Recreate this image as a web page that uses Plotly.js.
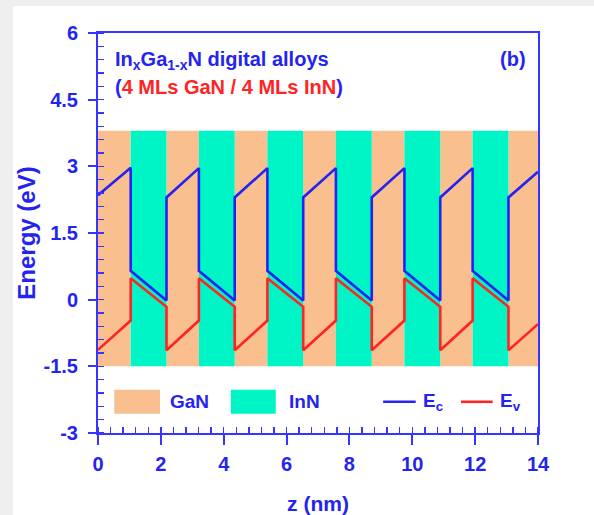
<!DOCTYPE html>
<html>
<head>
<meta charset="utf-8">
<script src="https://cdn.plot.ly/plotly-3.0.1.min.js"></script>
<style>
  html, body { margin: 0; padding: 0; width: 594px; height: 515px; overflow: hidden; background: #efefef; }
  #chart { position: absolute; left: 13px; top: 6px; width: 581px; height: 509px; background: #ffffff; }
</style>
</head>
<body>
<div id="chart"></div>
<script>
// Layer interfaces along the growth direction z (nm)
const zEdges = [0, 1.04, 2.18, 3.21, 4.35, 5.39, 6.53, 7.57, 8.71, 9.75, 10.89, 11.92, 13.06, 14];
const layerMaterial = ['GaN', 'InN', 'GaN', 'InN', 'GaN', 'InN', 'GaN', 'InN', 'GaN', 'InN', 'GaN', 'InN', 'GaN'];

// Conduction band edge (eV) at the start and end of each layer
const ecStart = [2.35, 0.65, 2.30, 0.65, 2.30, 0.65, 2.30, 0.65, 2.30, 0.65, 2.30, 0.65, 2.30];
const ecEnd   = [2.97, -0.02, 2.96, -0.02, 2.96, -0.02, 2.96, -0.02, 2.96, -0.02, 2.96, -0.02, 2.88];

// Valence band edge (eV) at the start and end of each layer
const evStart = [-1.13, 0.48, -1.14, 0.48, -1.14, 0.48, -1.14, 0.48, -1.14, 0.48, -1.14, 0.48, -1.14];
const evEnd   = [-0.47, -0.16, -0.47, -0.16, -0.47, -0.16, -0.47, -0.16, -0.47, -0.16, -0.47, -0.16, -0.55];

// Energy window shaded for each layer
const bandBottom = -1.5;
const bandTop = 3.8;

// Axis tick labels
const yTickVals = [-3, -1.5, 0, 1.5, 3, 4.5, 6];
const yTickText = ['-3', '-1.5', '0', '1.5', '3', '4.5', '6'];
const xTickVals = [0, 2, 4, 6, 8, 10, 12, 14];
const xTickText = ['0', '2', '4', '6', '8', '10', '12', '14'];

const BLUE = '#2424f0';
const AXIS_BLUE = '#3535ff';
const RED = '#ff2424';
const FILL = { GaN: '#f9bf8e', InN: '#00f5c6' };
const FONT = 'Liberation Sans, Arial, sans-serif';

// One bar per layer spanning the shaded energy window
function layerBars(material) {
  const x = [], w = [], y = [], base = [];
  for (let i = 0; i < layerMaterial.length; i++) {
    if (layerMaterial[i] !== material) continue;
    x.push((zEdges[i] + zEdges[i + 1]) / 2);
    w.push(zEdges[i + 1] - zEdges[i]);
    y.push(bandTop - bandBottom);
    base.push(bandBottom);
  }
  return {
    type: 'bar', name: material, x: x, y: y, base: base, width: w,
    marker: { color: FILL[material], line: { width: 0 } },
    hoverinfo: 'skip', showlegend: false
  };
}

// Piecewise-linear band profile; consecutive layers join with vertical steps
function bandLine(starts, ends, color, name) {
  const x = [], y = [];
  for (let i = 0; i < layerMaterial.length; i++) {
    x.push(zEdges[i], zEdges[i + 1]);
    y.push(starts[i], ends[i]);
  }
  return {
    type: 'scatter', mode: 'lines', name: name, x: x, y: y,
    line: { color: color, width: 2.6 }, showlegend: false
  };
}

const data = [
  layerBars('GaN'),
  layerBars('InN'),
  bandLine(evStart, evEnd, RED, 'Ev'),
  bandLine(ecStart, ecEnd, BLUE, 'Ec')
];

const textFont = (size, color) => ({ family: FONT, size: size, color: color, weight: 'bold' });
const tickFont = textFont(20, BLUE);

// Hand-placed key inside the plot (paper coordinates of the plot area)
const keyY0 = 0.048, keyY1 = 0.108, keyYm = 0.078;
const shapes = [
  { type: 'rect', xref: 'paper', yref: 'paper', x0: 0.037, x1: 0.141, y0: keyY0, y1: keyY1,
    fillcolor: FILL.GaN, line: { width: 0 } },
  { type: 'rect', xref: 'paper', yref: 'paper', x0: 0.302, x1: 0.404, y0: keyY0, y1: keyY1,
    fillcolor: FILL.InN, line: { width: 0 } },
  { type: 'line', xref: 'paper', yref: 'paper', x0: 0.648, x1: 0.722, y0: keyYm, y1: keyYm,
    line: { color: BLUE, width: 2.6 } },
  { type: 'line', xref: 'paper', yref: 'paper', x0: 0.825, x1: 0.897, y0: keyYm, y1: keyYm,
    line: { color: RED, width: 2.6 } }
];

const annotations = [
  { xref: 'paper', yref: 'paper', x: 0.158, y: keyYm, xanchor: 'left', yanchor: 'middle',
    text: 'GaN', showarrow: false, font: textFont(19, BLUE) },
  { xref: 'paper', yref: 'paper', x: 0.430, y: keyYm, xanchor: 'left', yanchor: 'middle',
    text: 'InN', showarrow: false, font: textFont(19, BLUE) },
  { xref: 'paper', yref: 'paper', x: 0.733, y: keyYm, xanchor: 'left', yanchor: 'middle',
    text: 'E<sub>c</sub>', showarrow: false, font: textFont(19, BLUE) },
  { xref: 'paper', yref: 'paper', x: 0.908, y: keyYm, xanchor: 'left', yanchor: 'middle',
    text: 'E<sub>v</sub>', showarrow: false, font: textFont(19, BLUE) },
  { xref: 'paper', yref: 'paper', x: 0.033, y: 0.932, xanchor: 'left', yanchor: 'middle',
    text: 'In<sub>x</sub>Ga<sub>1-x</sub>N digital alloys', showarrow: false, font: textFont(20, BLUE) },
  { xref: 'paper', yref: 'paper', x: 0.033, y: 0.865, xanchor: 'left', yanchor: 'middle',
    text: '(<span style="color:' + RED + '">4 MLs GaN / 4 MLs InN</span>)', showarrow: false,
    font: textFont(20, BLUE) },
  { xref: 'paper', yref: 'paper', x: 0.943, y: 0.935, xanchor: 'center', yanchor: 'middle',
    text: '(b)', showarrow: false, font: textFont(20, BLUE) }
];

const layout = {
  width: 581, height: 509,
  margin: { l: 85, r: 56, t: 27, b: 82 },
  paper_bgcolor: '#ffffff', plot_bgcolor: '#ffffff',
  barmode: 'overlay', showlegend: false,
  xaxis: {
    range: [0, 14], tickmode: 'array', tickvals: xTickVals, ticktext: xTickText,
    showgrid: false, zeroline: false,
    showline: true, mirror: true, linecolor: AXIS_BLUE, linewidth: 2,
    ticks: 'outside', ticklen: 10, tickwidth: 2, tickcolor: AXIS_BLUE, ticklabelstandoff: 2,
    minor: { tickmode: 'linear', tick0: 0, dtick: 0.4, ticks: 'inside', ticklen: 6, tickwidth: 1.5,
             tickcolor: AXIS_BLUE, showgrid: false },
    tickfont: tickFont,
    title: { text: 'z (nm)', font: textFont(21, BLUE), standoff: 22 }
  },
  yaxis: {
    range: [-3, 6], tickmode: 'array', tickvals: yTickVals, ticktext: yTickText,
    showgrid: false, zeroline: false,
    showline: true, mirror: true, linecolor: AXIS_BLUE, linewidth: 2,
    ticks: 'outside', ticklen: 8, tickwidth: 2, tickcolor: AXIS_BLUE, ticklabelstandoff: 6,
    minor: { tickmode: 'linear', tick0: 0, dtick: 0.3, ticks: 'inside', ticklen: 6, tickwidth: 1.5,
             tickcolor: AXIS_BLUE, showgrid: false },
    tickfont: tickFont,
    title: { text: 'Energy (eV)', font: textFont(24, BLUE), standoff: 8 }
  },
  shapes: shapes,
  annotations: annotations
};

Plotly.newPlot('chart', data, layout, { displayModeBar: false, staticPlot: true });
</script>
</body>
</html>
